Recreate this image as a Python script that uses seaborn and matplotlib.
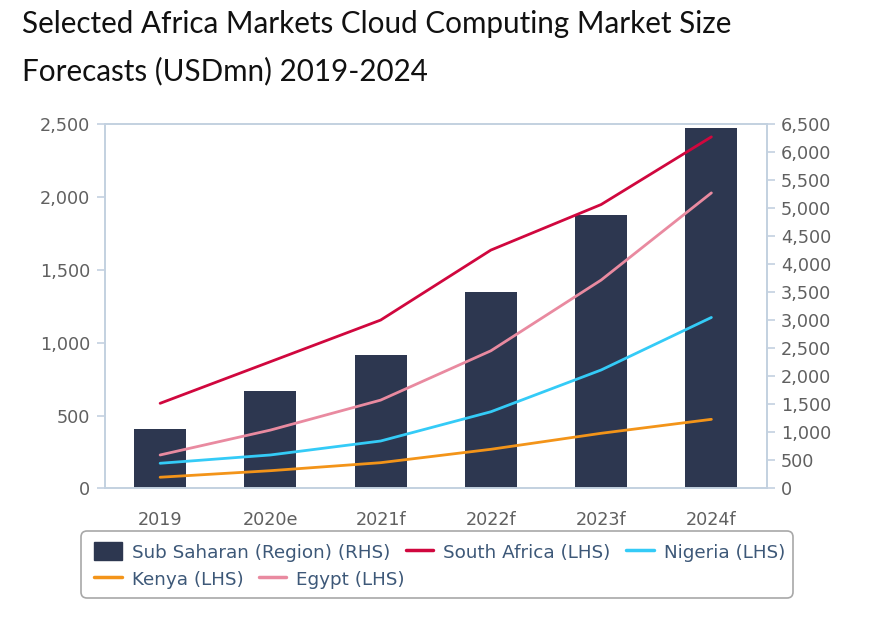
import numpy as np
import pandas as pd
import matplotlib
matplotlib.use('Agg')
import matplotlib.pyplot as plt
import seaborn as sns
from matplotlib.patches import FancyBboxPatch, Patch
from matplotlib.lines import Line2D
from matplotlib.transforms import IdentityTransform
from matplotlib.ticker import FuncFormatter

# data
years = ['2019', '2020e', '2021f', '2022f', '2023f', '2024f']
sub_saharan = [1060, 1740, 2390, 3500, 4890, 6430]   # RHS
south_africa = [584, 870, 1156, 1637, 1950, 2415]    # LHS
nigeria = [172, 229, 325, 526, 813, 1174]
kenya = [76, 121, 176, 268, 378, 474]
egypt = [229, 400, 606, 945, 1431, 2030]

bar_color = '#2d3750'
line_colors = {'South Africa (LHS)': '#d0073e',
               'Nigeria (LHS)': '#34cbf7',
               'Kenya (LHS)': '#f39419',
               'Egypt (LHS)': '#e98aa0'}
spine_col = '#c3d1e0'
tick_col = '#606060'
legend_txt = '#3d5878'

sns.set_theme(style='white')
plt.rcParams['font.family'] = ['DejaVu Sans']

bar_df = pd.DataFrame({'year': years, 'value': sub_saharan})
line_df = pd.DataFrame({
    'year': years * 4,
    'value': south_africa + nigeria + kenya + egypt,
    'country': (['South Africa (LHS)'] * 6 + ['Nigeria (LHS)'] * 6
                + ['Kenya (LHS)'] * 6 + ['Egypt (LHS)'] * 6),
})

fig = plt.figure(figsize=(8.9, 6.22), dpi=100)
ax = fig.add_axes([105 / 890, 1 - 488.3 / 622, (766.5 - 105) / 890, (488.3 - 124.5) / 622])
ax2 = ax.twinx()

sns.barplot(data=bar_df, x='year', y='value', ax=ax2, color=bar_color,
            width=0.47, saturation=1, linewidth=0)
sns.lineplot(data=line_df, x='year', y='value', hue='country',
             palette=line_colors, ax=ax, linewidth=2.0, legend=False, sort=False)

ax.set_zorder(ax2.get_zorder() + 1)
ax.patch.set_visible(False)

ax.set_xlim(-0.5, 5.5)
ax.set_ylim(0, 2500)
ax2.set_ylim(0, 6500)
for a in (ax, ax2):
    a.set_xlabel('')
    a.set_ylabel('')
    for s in a.spines.values():
        s.set_color(spine_col)
        s.set_linewidth(1.2)

fmt = FuncFormatter(lambda v, p: f'{v:,.0f}')
ax.set_yticks(range(0, 2501, 500))
ax.yaxis.set_major_formatter(fmt)
ax2.set_yticks(range(0, 6501, 500))
ax2.yaxis.set_major_formatter(fmt)

ax.set_xticks(range(len(years)))
ax.set_xticklabels(years)
ax.set_xticks(np.arange(-0.5, len(years), 1), minor=True)
ax.tick_params(axis='x', which='major', length=0, pad=16.5,
               labelsize=12.7, labelcolor=tick_col)
ax.tick_params(axis='x', which='minor', length=6, width=1.2, color=spine_col)
ax.tick_params(axis='y', length=6, width=1.2, color=spine_col, pad=4.5,
               labelsize=12.7, labelcolor=tick_col, left=True)
ax2.tick_params(axis='y', length=6, width=1.2, color=spine_col, pad=4.5,
                labelsize=12.7, labelcolor=tick_col, right=True)

# title
fig.text(22 / 890, 1 - 33 / 622, 'Selected Africa Markets Cloud Computing Market Size',
         family='Lato', fontsize=21.3, color='#111111', va='baseline')
fig.text(22 / 890, 1 - 80 / 622, 'Forecasts (USDmn) 2019-2024',
         family='Lato', fontsize=21.3, color='#111111', va='baseline')

# legend box and two rows of entries
box = FancyBboxPatch((81, 622 - 598), 712, 67, boxstyle='round,pad=0,rounding_size=6',
                     transform=IdentityTransform(), fc='none', ec='#a8a8a8', lw=1.2)
fig.add_artist(box)

h_bar = Patch(facecolor=bar_color, edgecolor=bar_color, label='Sub Saharan (Region) (RHS)')
h = {k: Line2D([], [], color=c, lw=2.5, label=k) for k, c in line_colors.items()}

leg_kw = dict(frameon=False, fontsize=13.2, labelcolor=legend_txt, handlelength=1.5,
              handleheight=1.1, handletextpad=0.55, columnspacing=0.85, borderpad=0,
              borderaxespad=0, loc='center left', bbox_transform=fig.transFigure)
leg1 = fig.legend(handles=[h_bar, h['South Africa (LHS)'], h['Nigeria (LHS)']], ncol=3,
                  bbox_to_anchor=(94 / 890, 1 - 552 / 622), **leg_kw)
leg2 = fig.legend(handles=[h['Kenya (LHS)'], h['Egypt (LHS)']], ncol=2,
                  bbox_to_anchor=(94 / 890, 1 - 579 / 622), **leg_kw)

fig.savefig('out.png', dpi=100)
